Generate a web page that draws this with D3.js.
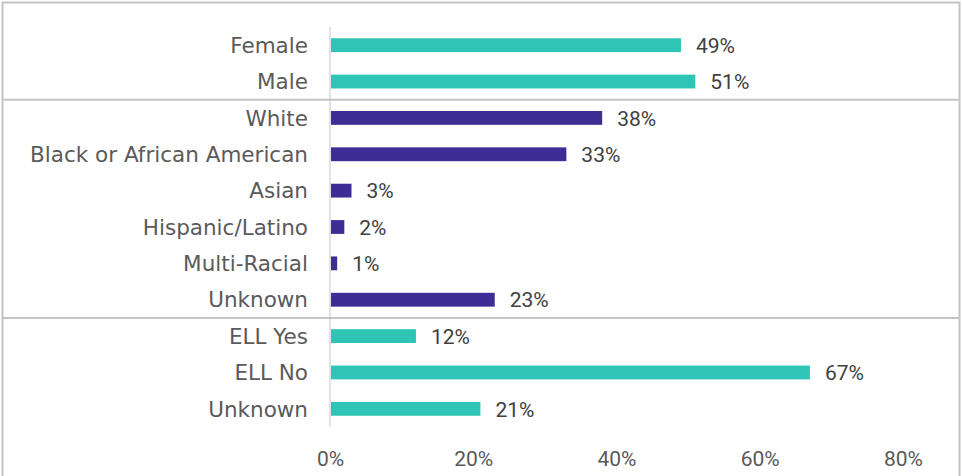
<!DOCTYPE html>
<html>
<head>
<meta charset="utf-8">
<script src="https://cdn.jsdelivr.net/npm/d3@7"></script>
<style>
  html, body { margin: 0; padding: 0; background: #fff; }
  svg { display: block; }
</style>
</head>
<body>
<svg id="chart" width="962" height="476"></svg>
<script>
// Student demographics, share of enrolled students by group
const categories = ["Female", "Male", "White", "Black or African American", "Asian",
  "Hispanic/Latino", "Multi-Racial", "Unknown", "ELL Yes", "ELL No", "Unknown"];
const values = [49, 51, 38, 33, 3, 2, 1, 23, 12, 67, 21];
const groups = ["Gender", "Gender", "Race", "Race", "Race", "Race", "Race", "Race", "ELL", "ELL", "ELL"];
const xTicks = [0, 20, 40, 60, 80];

const groupColor = { Gender: "#2ec4b6", Race: "#3d2d95", ELL: "#2ec4b6" };
const labelFont = "'DejaVu Sans', sans-serif";
const numberFont = "Roboto, 'Liberation Sans', sans-serif";

const W = 962, H = 476;
const margin = { top: 27, right: 59, bottom: 49, left: 330 };
const svg = d3.select("#chart");

const rows = categories.map((c, i) => ({ key: i, label: c, value: values[i], group: groups[i] }));

const x = d3.scaleLinear().domain([0, 80]).range([margin.left, W - margin.right]);
const y = d3.scaleBand().domain(rows.map(d => d.key))
  .range([margin.top, H - margin.bottom]).paddingInner(0.62).paddingOuter(0.31);

// outer frame
svg.append("rect")
  .attr("x", 2.5).attr("y", 2.5).attr("width", W - 5).attr("height", H + 10)
  .attr("fill", "none").attr("stroke", "#c4c4c4").attr("stroke-width", 2);

// vertical category axis line
svg.append("line")
  .attr("x1", x(0)).attr("x2", x(0))
  .attr("y1", margin.top).attr("y2", H - margin.bottom)
  .attr("stroke", "#d9d9d9").attr("stroke-width", 1.5);

// group separators between gender / race / ELL blocks
const step = y.step();
rows.forEach((d, i) => {
  if (i > 0 && groups[i] !== groups[i - 1]) {
    const yy = y(d.key) - step * y.paddingInner() / 2;
    svg.append("line")
      .attr("x1", 2).attr("x2", W - 3)
      .attr("y1", yy).attr("y2", yy)
      .attr("stroke", "#c4c4c4").attr("stroke-width", 2);
  }
});

// bars
svg.append("g").selectAll("rect").data(rows).join("rect")
  .attr("x", x(0) + 1)
  .attr("y", d => y(d.key))
  .attr("width", d => x(d.value) - x(0) - 1)
  .attr("height", y.bandwidth())
  .attr("fill", d => groupColor[d.group]);

// category labels
svg.append("g").selectAll("text").data(rows).join("text")
  .attr("x", x(0) - 22)
  .attr("y", d => y(d.key) + y.bandwidth() / 2)
  .attr("dy", "0.36em")
  .attr("text-anchor", "end")
  .attr("font-family", labelFont)
  .attr("font-size", 21.5)
  .attr("fill", "#5a5a5a")
  .text(d => d.label);

// value labels
svg.append("g").selectAll("text").data(rows).join("text")
  .attr("x", d => x(d.value) + 15)
  .attr("y", d => y(d.key) + y.bandwidth() / 2)
  .attr("dy", "0.37em")
  .attr("font-family", numberFont)
  .attr("font-size", 21)
  .attr("fill", "#404040")
  .text(d => d.value + "%");

// value axis
const xAxis = d3.axisBottom(x).tickValues(xTicks).tickFormat(d => d + "%").tickSize(0).tickPadding(0);
const ax = svg.append("g").attr("transform", `translate(0, ${H - 10})`).call(xAxis);
ax.select(".domain").remove();
ax.selectAll("text")
  .attr("dy", 0)
  .attr("font-family", numberFont)
  .attr("font-size", 21)
  .attr("fill", "#595959");
</script>
</body>
</html>
